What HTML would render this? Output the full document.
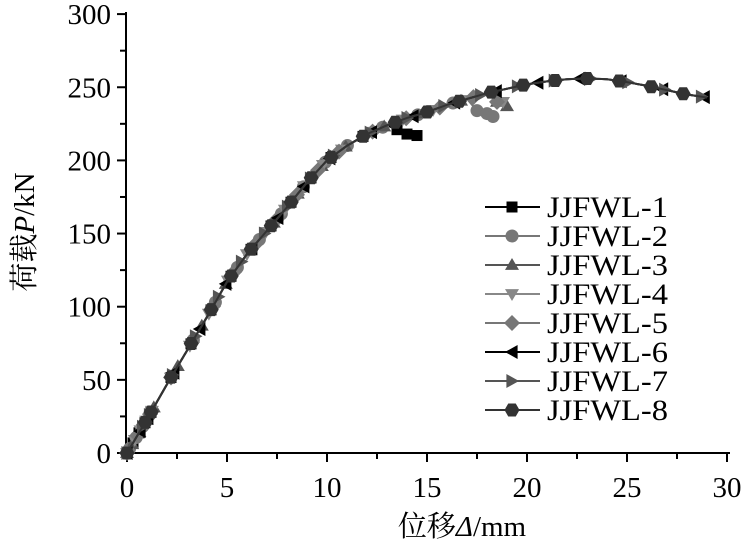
<!DOCTYPE html><html><head><style>body{margin:0;background:#fff}svg{display:block;font-family:"Liberation Serif","Noto Serif CJK SC",serif}</style></head><body>
<svg id="s" width="744" height="543" viewBox="0 0 744 543">
<g stroke="#000" stroke-width="2" fill="none">
<line x1="126" y1="453" x2="730" y2="453"/><line x1="126" y1="12" x2="126" y2="454"/>
</g>
<g id="ticks" stroke="#000" stroke-width="2"></g>
<g id="lbl" font-size="29" fill="#000"></g>
<g id="ser"></g>
<g id="leg"></g>
<text x="462" y="536" font-size="29" text-anchor="middle">位移<tspan font-style="italic">Δ</tspan>/mm</text>
<text transform="translate(34,232) rotate(-90)" font-size="29" text-anchor="middle">荷载<tspan font-style="italic">P</tspan>/kN</text>
</svg>
<script>
const NS="http://www.w3.org/2000/svg";
function el(t,a,p){const e=document.createElementNS(NS,t);for(const k in a)e.setAttribute(k,a[k]);p.appendChild(e);return e;}
const X=v=>127+v*20,Y=v=>453-v*1.463;
const tk=document.getElementById('ticks'),lb=document.getElementById('lbl');
for(let i=0;i<=30;i+=2.5){const x=X(i);el('line',{x1:x,y1:453,x2:x,y2:i%5==0?462:459},tk);if(i%5==0){const t=el('text',{x:x,y:497,'text-anchor':'middle'},lb);t.textContent=i;}}
for(let i=0;i<=300;i+=25){const y=Y(i);el('line',{x1:126,y1:y,x2:i%50==0?117:120,y2:y},tk);if(i%50==0){const t=el('text',{x:111,y:y+10,'text-anchor':'end'},lb);t.textContent=i;}}
const B=[[0,0],[1,23],[2,47],[3,70],[4,93],[5,117],[6,136],[7,152],[8,168],[9,185],[10,200],[11,210],[12,218],[13,224],[14,229],[15,233],[16,238],[17,242],[18,246],[19,249],[20,252],[21,254],[22,255.5],[23,256],[24,255.5],[25,253.5],[26,251],[27,248],[28,245],[29,243]];
function f(x){for(let i=1;i<B.length;i++){if(x<=B[i][0]){const a=B[i-1],b=B[i];return a[1]+(b[1]-a[1])*(x-a[0])/(b[0]-a[0]);}}return 243;}
function mk(g,type,x,y,c){const r=7;
 if(type=='sq')el('rect',{x:x-5.5,y:y-5.5,width:11,height:11,fill:c},g);
 else if(type=='ci')el('circle',{cx:x,cy:y,r:6.5,fill:c},g);
 else if(type=='hx')el('polygon',{points:[0,1,2,3,4,5].map(k=>(x+7.5*Math.cos(k*Math.PI/3))+','+(y+7.5*Math.sin(k*Math.PI/3))).join(' '),fill:c},g);
 else{const P={up:[[0,-r],[r,r*0.7],[-r,r*0.7]],dn:[[0,r],[r,-r*0.7],[-r,-r*0.7]],di:[[0,-8],[8,0],[0,8],[-8,0]],lt:[[-r,0],[r*0.8,-r],[r*0.8,r]],rt:[[r,0],[-r*0.8,-r],[-r*0.8,r]]}[type];
 el('polygon',{points:P.map(p=>(x+p[0])+','+(y+p[1])).join(' '),fill:c},g);}}
const S=[
 {c:'#000',m:'sq',end:13,tail:[[13.5,221],[14,218],[14.5,217]],st:1.0},
 {c:'#777',m:'ci',end:17,tail:[[17.5,234],[18,232],[18.3,230]],st:1.1},
 {c:'#555',m:'up',end:18,tail:[[18.5,240],[19,237]],st:1.2},
 {c:'#888',m:'dn',end:18,tail:[[18.8,240]],st:0.95},
 {c:'#777',m:'di',end:18,tail:[[18.5,240]],st:1.05},
 {c:'#000',m:'lt',end:29,tail:[],st:1.3},
 {c:'#555',m:'rt',end:29,tail:[],st:1.15},
 {c:'#333',m:'hx',end:29,tail:[],st:1.0}];
const sg=document.getElementById('ser');
S.forEach((s,i)=>{const pts=[];for(let x=0;x<=s.end+1e-6;x+=0.25)pts.push([x,f(x)]);s.tail.forEach(p=>pts.push(p));
 el('polyline',{points:pts.map(p=>X(p[0])+','+Y(p[1])).join(' '),fill:'none',stroke:s.c,'stroke-width':2},sg);
 const off=i*0.13;let mp=[];
 for(let x=off;x<=s.end;){mp.push([x,f(x)]);const step=x<10?(x<1?0.3:1.0):1.6;x+=step*s.st;}
 s.tail.forEach(p=>mp.push(p));mp.push([0,0]);
 const g=el('g',{},sg);mp.forEach(p=>mk(g,s.m,X(p[0]),Y(p[1]),s.c));});
const lg=document.getElementById('leg');
S.forEach((s,i)=>{const y=207+i*29;el('line',{x1:485,y1:y,x2:540,y2:y,stroke:s.c,'stroke-width':2},lg);mk(lg,s.m,512,y,s.c);
 const t=el('text',{x:547,y:y+10,'font-size':30,textLength:121,lengthAdjust:'spacingAndGlyphs'},lg);t.textContent='JJFWL-'+(i+1);});
</script>
</body></html>
